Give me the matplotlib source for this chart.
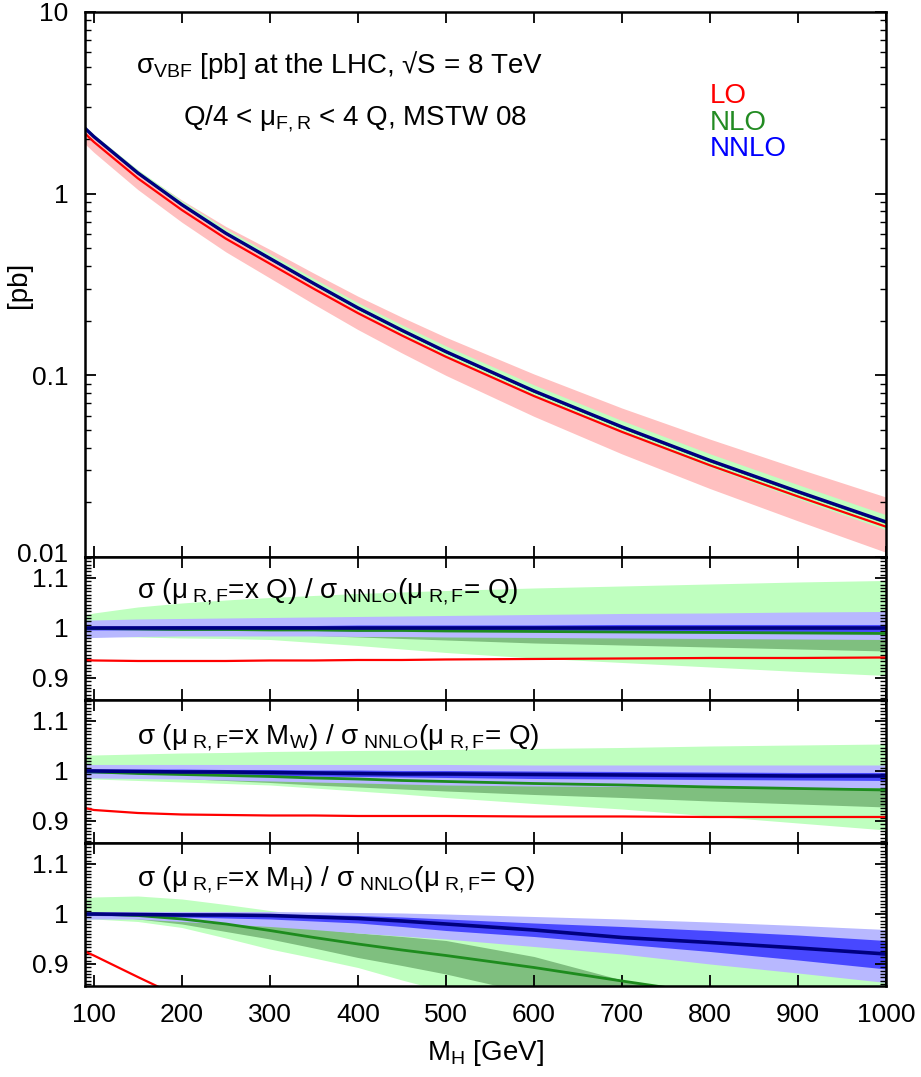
import numpy as np
import matplotlib
matplotlib.use('Agg')
import matplotlib.pyplot as plt
from matplotlib.ticker import MultipleLocator, FixedLocator, LogLocator, NullFormatter, AutoMinorLocator, NullLocator
from matplotlib.transforms import ScaledTranslation

plt.rcParams['font.family'] = ['Liberation Sans', 'DejaVu Sans']
plt.rcParams['mathtext.fontset'] = 'custom'
plt.rcParams['mathtext.rm'] = 'Liberation Sans'
plt.rcParams['mathtext.it'] = 'Liberation Sans:italic'
plt.rcParams['mathtext.bf'] = 'Liberation Sans:bold'

# Higgs mass grid [GeV]
mh = [90, 100, 150, 200, 250, 300, 350, 400, 450, 500, 600, 700, 800, 900, 1000]

# NNLO cross section [pb], mu = Q
nnlo_xs = [2.29, 2.06, 1.30, 0.87, 0.605, 0.44, 0.32, 0.235, 0.177, 0.135,
           0.082, 0.052, 0.034, 0.0229, 0.0156]
# LO band (Q/4..4Q) relative to NNLO, top panel
lo_band_hi_top = [0.99, 1.00, 1.03, 1.06, 1.09, 1.12, 1.14, 1.16, 1.18, 1.20, 1.24, 1.27, 1.31, 1.34, 1.37]
lo_band_lo_top = [0.82, 0.82, 0.81, 0.80, 0.79, 0.78, 0.77, 0.76, 0.75, 0.74, 0.725, 0.71, 0.70, 0.69, 0.68]

# panel 1: mu = x Q
lo_q = [0.936, 0.935, 0.934, 0.934, 0.934, 0.935, 0.935, 0.936, 0.936, 0.937, 0.938, 0.939, 0.940, 0.940, 0.941]
nlo_q = [0.999, 0.999, 0.998, 0.997, 0.997, 0.996, 0.996, 0.995, 0.995, 0.994, 0.993, 0.992, 0.991, 0.990, 0.989]
nnlo_q = [1.000, 1.000, 1.000, 1.000, 1.000, 1.000, 1.000, 1.000, 1.000, 1.000, 1.000, 1.000, 1.000, 1.000, 1.000]
nlo_wide_hi_q = [1.026, 1.030, 1.042, 1.050, 1.056, 1.061, 1.065, 1.069, 1.072, 1.075, 1.080, 1.084, 1.088, 1.092, 1.095]
nlo_wide_lo_q = [0.984, 0.984, 0.982, 0.980, 0.979, 0.977, 0.971, 0.965, 0.958, 0.951, 0.940, 0.931, 0.922, 0.913, 0.905]
nlo_narrow_hi_q = [1.000, 1.000, 0.999, 0.998, 0.998, 0.997, 0.997, 0.996, 0.996, 0.995, 0.994, 0.993, 0.992, 0.991, 0.990]
nlo_narrow_lo_q = [0.995, 0.995, 0.993, 0.992, 0.990, 0.988, 0.985, 0.982, 0.979, 0.976, 0.970, 0.966, 0.962, 0.958, 0.954]
nnlo_wide_hi_q = [1.016, 1.016, 1.018, 1.019, 1.020, 1.021, 1.022, 1.023, 1.024, 1.025, 1.027, 1.029, 1.030, 1.032, 1.033]
nnlo_wide_lo_q = [0.980, 0.981, 0.983, 0.984, 0.984, 0.984, 0.984, 0.983, 0.983, 0.982, 0.981, 0.980, 0.979, 0.978, 0.977]
nnlo_narrow_hi_q = [1.004, 1.004, 1.004, 1.005, 1.005, 1.005, 1.005, 1.006, 1.006, 1.006, 1.006, 1.007, 1.007, 1.007, 1.007]
nnlo_narrow_lo_q = [0.996, 0.996, 0.996, 0.995, 0.995, 0.995, 0.995, 0.994, 0.994, 0.994, 0.994, 0.993, 0.993, 0.993, 0.993]

# panel 2: mu = x M_W
lo_w = [0.926, 0.922, 0.916, 0.913, 0.912, 0.911, 0.911, 0.910, 0.910, 0.910, 0.909, 0.909, 0.908, 0.908, 0.908]
nlo_w = [0.999, 0.998, 0.995, 0.993, 0.991, 0.989, 0.986, 0.984, 0.981, 0.979, 0.975, 0.972, 0.968, 0.965, 0.962]
nnlo_w = [1.000, 1.000, 0.999, 0.998, 0.998, 0.997, 0.996, 0.995, 0.994, 0.994, 0.993, 0.992, 0.991, 0.990, 0.990]
nlo_wide_hi_w = [1.032, 1.032, 1.034, 1.036, 1.037, 1.039, 1.040, 1.041, 1.042, 1.043, 1.045, 1.047, 1.050, 1.052, 1.054]
nlo_wide_lo_w = [0.985, 0.984, 0.981, 0.978, 0.975, 0.972, 0.966, 0.960, 0.954, 0.947, 0.935, 0.924, 0.910, 0.896, 0.882]
nlo_narrow_hi_w = [1.000, 1.000, 0.997, 0.995, 0.993, 0.991, 0.989, 0.987, 0.985, 0.983, 0.979, 0.976, 0.973, 0.970, 0.967]
nlo_narrow_lo_w = [0.997, 0.995, 0.990, 0.985, 0.981, 0.977, 0.972, 0.968, 0.964, 0.960, 0.953, 0.947, 0.940, 0.934, 0.928]
nnlo_wide_hi_w = [1.013, 1.013, 1.013, 1.013, 1.013, 1.013, 1.013, 1.013, 1.013, 1.013, 1.012, 1.012, 1.012, 1.012, 1.012]
nnlo_wide_lo_w = [0.986, 0.986, 0.985, 0.984, 0.982, 0.980, 0.978, 0.976, 0.974, 0.972, 0.970, 0.969, 0.968, 0.967, 0.967]
nnlo_narrow_hi_w = [1.004, 1.004, 1.004, 1.004, 1.003, 1.003, 1.002, 1.002, 1.001, 1.001, 1.000, 0.999, 0.998, 0.997, 0.997]
nnlo_narrow_lo_w = [0.996, 0.996, 0.995, 0.993, 0.992, 0.991, 0.990, 0.989, 0.988, 0.987, 0.985, 0.984, 0.983, 0.982, 0.981]

# panel 3: mu = x M_H
mh_lo_h = [90, 100, 150, 200]
lo_h = [0.925, 0.917, 0.874, 0.832]
nlo_h = [1.000, 1.000, 0.997, 0.990, 0.980, 0.967, 0.953, 0.940, 0.928, 0.917, 0.893, 0.866, 0.840, 0.813, 0.786]
nnlo_h = [1.000, 1.000, 0.999, 0.998, 0.998, 0.997, 0.994, 0.991, 0.986, 0.980, 0.968, 0.953, 0.943, 0.932, 0.920]
nlo_wide_hi_h = [1.030, 1.034, 1.036, 1.030, 1.019, 1.007, 0.996, 0.985, 0.975, 0.965, 0.945, 0.930, 0.915, 0.900, 0.890]
nlo_wide_lo_h = [0.990, 0.990, 0.985, 0.973, 0.952, 0.930, 0.912, 0.893, 0.868, 0.845, 0.840, 0.840, 0.840, 0.840, 0.840]
nlo_narrow_hi_h = [1.000, 1.000, 0.998, 0.993, 0.987, 0.980, 0.971, 0.962, 0.955, 0.947, 0.915, 0.868, 0.830, 0.830, 0.830]
nlo_narrow_lo_h = [1.000, 0.998, 0.990, 0.980, 0.965, 0.950, 0.932, 0.913, 0.897, 0.880, 0.840, 0.830, 0.830, 0.830, 0.830]
nnlo_wide_hi_h = [1.005, 1.005, 1.005, 1.005, 1.005, 1.005, 1.004, 1.003, 1.002, 1.000, 0.995, 0.990, 0.984, 0.977, 0.969]
nnlo_wide_lo_h = [0.990, 0.990, 0.990, 0.985, 0.980, 0.975, 0.969, 0.962, 0.956, 0.950, 0.935, 0.920, 0.900, 0.882, 0.863]
nnlo_narrow_hi_h = [1.003, 1.003, 1.003, 1.002, 1.001, 1.000, 0.999, 0.997, 0.994, 0.990, 0.982, 0.975, 0.967, 0.958, 0.947]
nnlo_narrow_lo_h = [0.997, 0.997, 0.996, 0.994, 0.992, 0.990, 0.986, 0.982, 0.975, 0.967, 0.955, 0.940, 0.925, 0.908, 0.890]

# colours
c_lo = '#ff0000'
c_nlo = '#1e8c1e'
c_nnlo = '#000080'
c_lo_band = '#ffc0c0'
c_nlo_wide = '#bfffbf'
c_nlo_narrow = '#7fbf7f'
c_nnlo_wide = '#b8b8ff'
c_nnlo_narrow = '#4848ff'

fs = 20
fs_tick = 19

fig = plt.figure(figsize=(9.21, 10.77), dpi=100)
gs = fig.add_gridspec(4, 1, height_ratios=[545, 143, 143, 143], hspace=0,
                      left=0.0923, right=0.962, top=0.9889, bottom=0.0845)
axes = [fig.add_subplot(gs[i]) for i in range(4)]

x = np.array(mh, dtype=float)
nn = np.array(nnlo_xs)

# --- top panel ---
ax = axes[0]
ax.fill_between(x, nn * np.array(lo_band_lo_top), nn * np.array(lo_band_hi_top), color=c_lo_band, lw=0)
ax.fill_between(x, nn * np.array(nlo_wide_lo_q), nn * np.array(nlo_wide_hi_q), color=c_nlo_wide, lw=0)
ax.plot(x, nn * np.array(lo_q), color=c_lo, lw=1.6)
ax.plot(x, nn * np.array(nlo_q), color=c_nlo, lw=1.6)
ax.plot(x, nn, color=c_nnlo, lw=2.4)
ax.set_yscale('log')
ax.set_ylim(0.01, 10)
ax.yaxis.set_major_locator(FixedLocator([0.01, 0.1, 1, 10]))
ax.set_yticklabels(['0.01', '0.1', '1', '10'])
ax.yaxis.set_minor_locator(LogLocator(base=10, subs=np.arange(2, 10)))
ax.yaxis.set_minor_formatter(NullFormatter())
ax.set_ylabel('[pb]', fontsize=fs)
ax.yaxis.set_label_coords(-0.066, 0.50)

ax.text(0.318, 0.902, 'σ$_{\\mathrm{VBF}}$ [pb] at the LHC, √S = 8 TeV', transform=ax.transAxes,
        ha='center', va='center', fontsize=fs)
ax.text(0.337, 0.805, 'Q/4 < μ$_{\\mathrm{F,R}}$ < 4 Q, MSTW 08', transform=ax.transAxes,
        ha='center', va='center', fontsize=fs)
ax.text(0.78, 0.845, 'LO', color=c_lo, transform=ax.transAxes, ha='left', va='center', fontsize=fs)
ax.text(0.78, 0.797, 'NLO', color='#228b22', transform=ax.transAxes, ha='left', va='center', fontsize=fs)
ax.text(0.78, 0.749, 'NNLO', color='#0000ff', transform=ax.transAxes, ha='left', va='center', fontsize=fs)

# --- ratio panels ---
panels = [
    (lo_q, nlo_q, nnlo_q, nlo_wide_lo_q, nlo_wide_hi_q, nlo_narrow_lo_q, nlo_narrow_hi_q,
     nnlo_wide_lo_q, nnlo_wide_hi_q, nnlo_narrow_lo_q, nnlo_narrow_hi_q,
     'σ (μ$_{\\mathrm{\\ R,F}}$=x Q) / σ$_{\\mathrm{\\ NNLO}}$(μ$_{\\mathrm{\\ R,F}}$= Q)'),
    (lo_w, nlo_w, nnlo_w, nlo_wide_lo_w, nlo_wide_hi_w, nlo_narrow_lo_w, nlo_narrow_hi_w,
     nnlo_wide_lo_w, nnlo_wide_hi_w, nnlo_narrow_lo_w, nnlo_narrow_hi_w,
     'σ (μ$_{\\mathrm{\\ R,F}}$=x M$_{\\mathrm{W}}$) / σ$_{\\mathrm{\\ NNLO}}$(μ$_{\\mathrm{\\ R,F}}$= Q)'),
    (lo_h, nlo_h, nnlo_h, nlo_wide_lo_h, nlo_wide_hi_h, nlo_narrow_lo_h, nlo_narrow_hi_h,
     nnlo_wide_lo_h, nnlo_wide_hi_h, nnlo_narrow_lo_h, nnlo_narrow_hi_h,
     'σ (μ$_{\\mathrm{\\ R,F}}$=x M$_{\\mathrm{H}}$) / σ$_{\\mathrm{\\ NNLO}}$(μ$_{\\mathrm{\\ R,F}}$= Q)'),
]
label_y = [0.76, 0.74, 0.745]

for i, p in enumerate(panels):
    ax = axes[i + 1]
    (lo, nlo, nnlo, nwl, nwh, nnl, nnh, wwl, wwh, wnl, wnh, lab) = p
    ax.fill_between(x, nwl, nwh, color=c_nlo_wide, lw=0)
    ax.fill_between(x, nnl, nnh, color=c_nlo_narrow, lw=0)
    ax.fill_between(x, wwl, wwh, color=c_nnlo_wide, lw=0)
    ax.fill_between(x, wnl, wnh, color=c_nnlo_narrow, lw=0)
    xl = mh_lo_h if len(lo) != len(mh) else mh
    ax.plot(xl, lo, color=c_lo, lw=1.6)
    ax.plot(x, nlo, color=c_nlo, lw=2.0)
    ax.plot(x, nnlo, color=c_nnlo, lw=2.6)
    ax.set_ylim(0.856, 1.142)
    ax.yaxis.set_major_locator(FixedLocator([0.9, 1.0, 1.1]))
    ax.set_yticklabels(['0.9', '1', '1.1'])
    ax.yaxis.set_minor_locator(AutoMinorLocator(15))
    ax.text(0.065, label_y[i], lab, transform=ax.transAxes, ha='left', va='center', fontsize=fs)

for k, ax in enumerate(axes):
    ax.set_xlim(90, 1000)
    ax.xaxis.set_major_locator(MultipleLocator(100))
    ax.xaxis.set_minor_locator(NullLocator())
    ax.tick_params(which='both', direction='in', top=True, right=True, labelsize=fs_tick, pad=12)
    ax.tick_params(which='major', length=8, width=1.3)
    ax.tick_params(which='minor', length=4, width=1.0)
    for s in ax.spines.values():
        s.set_linewidth(1.8)
    if k < 3:
        ax.tick_params(labelbottom=False)

axes[3].set_xlabel('M$_{\\mathrm{H}}$ [GeV]', fontsize=fs, labelpad=8)

# nudge the bottom label of the top panel up so it clears "1.1" below it
lab001 = axes[0].get_yticklabels()[0]
lab001.set_transform(lab001.get_transform() + ScaledTranslation(0, 3 / 72, fig.dpi_scale_trans))

fig.savefig('out.png', dpi=100)
